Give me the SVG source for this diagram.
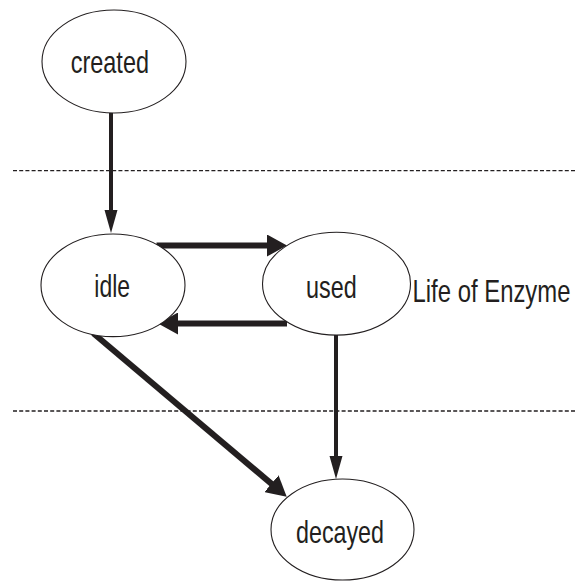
<svg xmlns="http://www.w3.org/2000/svg" width="576" height="581" viewBox="0 0 576 581">
  <style>
    .state ellipse { fill: #ffffff; stroke: #231f20; stroke-width: 1.1; }
    .label { font-family: "Liberation Sans", Arial, sans-serif; font-size: 32px; fill: #231f20; }
    .divider { stroke: #231f20; stroke-width: 1.3; stroke-dasharray: 4 2.2; fill: none; }
    .edge { stroke: #231f20; fill: none; stroke-linecap: butt; }
    .thin { stroke-width: 4; }
    .thick { stroke-width: 6; }
  </style>
  <defs>
    <marker id="head-thin" markerUnits="userSpaceOnUse" markerWidth="24" markerHeight="14" refX="1" refY="7" orient="auto">
      <path d="M0,0.5 L23,7 L0,13.5 Z" fill="#231f20"/>
    </marker>
    <marker id="head-thick" markerUnits="userSpaceOnUse" markerWidth="21" markerHeight="22" refX="1" refY="11" orient="auto">
      <path d="M0,0 L20,11 L0,22 Z" fill="#231f20"/>
    </marker>
  </defs>

  <!-- phase separators -->
  <g id="dividers">
    <line class="divider" x1="13" y1="170.7" x2="576" y2="170.7"/>
    <line class="divider" x1="13" y1="411" x2="576" y2="411"/>
  </g>

  <!-- transitions -->
  <g id="connectors">
    <line class="edge thin" x1="111" y1="113" x2="111" y2="211" marker-end="url(#head-thin)"/>
    <line class="edge thick" x1="156.5" y1="245.5" x2="268" y2="245.5" marker-end="url(#head-thick)"/>
    <line class="edge thick" x1="287" y1="323.5" x2="177" y2="323.5" marker-end="url(#head-thick)"/>
    <line class="edge thick" x1="93.3" y1="333.3" x2="272.2" y2="484.4" marker-end="url(#head-thick)"/>
    <line class="edge thin" x1="336" y1="335" x2="336" y2="457" marker-end="url(#head-thin)"/>
  </g>

  <g id="created" class="state">
    <ellipse cx="114" cy="61.5" rx="72" ry="51.5"/>
    <text class="label" x="70.7" y="72.7" textLength="78.3" lengthAdjust="spacingAndGlyphs">created</text>
  </g>

  <g id="idle" class="state">
    <ellipse cx="113" cy="285.3" rx="72" ry="51.3"/>
    <text class="label" x="94.3" y="296.7" textLength="35.7" lengthAdjust="spacingAndGlyphs">idle</text>
  </g>

  <g id="used" class="state">
    <ellipse cx="336.5" cy="283.7" rx="74" ry="51.4"/>
    <text class="label" x="306" y="297.7" textLength="50.7" lengthAdjust="spacingAndGlyphs">used</text>
  </g>

  <g id="decayed" class="state">
    <ellipse cx="342.5" cy="529.5" rx="71.5" ry="50.5"/>
    <text class="label" x="296" y="542.7" textLength="88" lengthAdjust="spacingAndGlyphs">decayed</text>
  </g>

  <g id="caption">
    <text class="label" x="412.5" y="301.7" font-size="31" textLength="158" lengthAdjust="spacingAndGlyphs">Life of Enzyme</text>
  </g>
</svg>
